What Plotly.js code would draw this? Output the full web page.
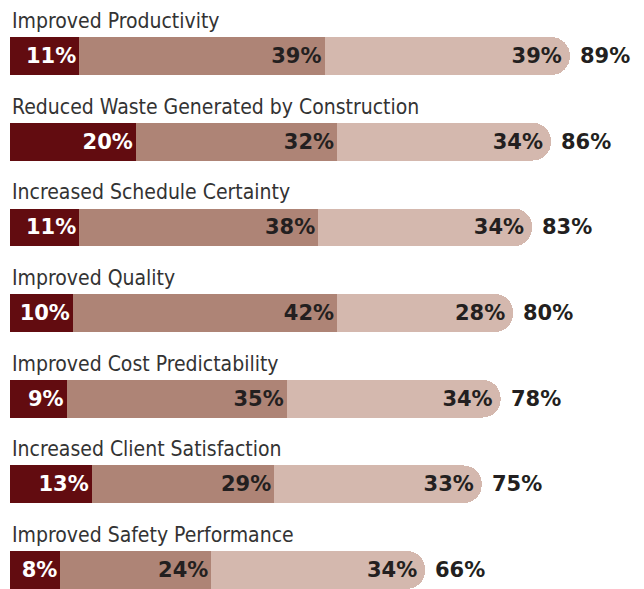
<!DOCTYPE html>
<html>
<head>
<meta charset="utf-8">
<script src="https://cdn.plot.ly/plotly-3.0.1.min.js"></script>
<style>
  html, body { margin: 0; padding: 0; background: #fff; }
  #chart { width: 644px; height: 589px; }
</style>
</head>
<body>
<div id="chart"></div>
<script>
var categories = [
  "Improved Productivity",
  "Reduced Waste Generated by Construction",
  "Increased Schedule Certainty",
  "Improved Quality",
  "Improved Cost Predictability",
  "Increased Client Satisfaction",
  "Improved Safety Performance"
];
var high = [11, 20, 11, 10, 9, 13, 8];
var medium = [39, 32, 38, 42, 35, 29, 24];
var low = [39, 34, 34, 28, 34, 33, 34];

var colors = ["#620c10", "#ae8476", "#d4b8ae"];
var textColors = ["#ffffff", "#231f20", "#231f20"];
var valueFont = "DejaVu Sans, sans-serif";

var idx = categories.map(function (c, i) { return i; });
var totals = idx.map(function (i) { return high[i] + medium[i] + low[i]; });

var series = [high, medium, low];
var data = series.map(function (vals, k) {
  return {
    type: "bar",
    orientation: "h",
    y: idx,
    x: vals,
    width: 0.44,
    marker: { color: colors[k], line: { width: 0 } },
    text: vals.map(function (v) { return v + "%"; }),
    textposition: "inside",
    insidetextanchor: "end",
    textangle: 0,
    textfont: { family: valueFont, size: 21, color: textColors[k], weight: "bold" },
    hoverinfo: "skip",
    showlegend: false
  };
});

var annotations = [];
idx.forEach(function (i) {
  // category name above each bar
  annotations.push({
    x: 0, y: i, xref: "x", yref: "y",
    xanchor: "left", yanchor: "middle",
    yshift: 35, xshift: 0,
    text: categories[i],
    showarrow: false,
    font: { family: "DejaVu Sans Condensed, DejaVu Sans, sans-serif", size: 21, color: "#333333", stretch: "condensed" }
  });
  // total to the right of the bar
  annotations.push({
    x: totals[i], y: i, xref: "x", yref: "y",
    xanchor: "left", yanchor: "middle",
    xshift: 8,
    text: "<b>" + totals[i] + "%</b>",
    showarrow: false,
    font: { family: valueFont, size: 21, color: "#231f20" }
  });
});

var layout = {
  width: 644,
  height: 589,
  margin: { l: 10, r: 5, t: 0, b: 0 },
  paper_bgcolor: "#ffffff",
  plot_bgcolor: "#ffffff",
  barmode: "stack",
  barcornerradius: 18,
  xaxis: { range: [0, 100], visible: false, fixedrange: true },
  yaxis: { range: [6.222, -0.654], visible: false, fixedrange: true },
  annotations: annotations,
  showlegend: false
};

Plotly.newPlot("chart", data, layout, { displayModeBar: false, staticPlot: true });
</script>
</body>
</html>
